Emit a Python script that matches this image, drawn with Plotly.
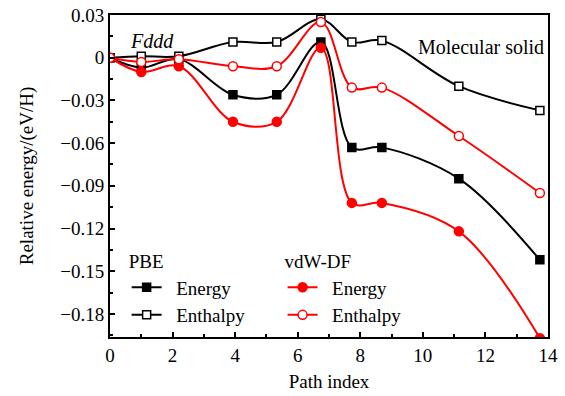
import plotly.graph_objects as go

path_x = [0, 1.0, 2.2, 3.93, 5.33, 6.74, 7.73, 8.69, 11.15, 13.74]
pbe_energy = [0, -0.007, -0.001, -0.026, -0.026, 0.011, -0.063, -0.063, -0.085, -0.142]
pbe_enthalpy = [0, 0.001, 0.001, 0.011, 0.011, 0.027, 0.011, 0.012, -0.020, -0.037]
vdw_energy = [0, -0.010, -0.006, -0.045, -0.045, 0.007, -0.102, -0.102, -0.122, -0.197]
vdw_enthalpy = [0, -0.003, -0.001, -0.006, -0.006, 0.025, -0.021, -0.021, -0.055, -0.095]

FONT = "Liberation Serif, Times New Roman, serif"
fig = go.Figure()

def add(y, color, symbol, filled, name, legend):
    fig.add_trace(go.Scatter(
        x=path_x, y=y, mode="lines+markers", name=name, legend=legend,
        line=dict(color=color, width=2, shape="spline", smoothing=1),
        marker=dict(symbol=symbol, size=9 if "circle" in symbol else 8,
                    color=color if filled else "white",
                    line=dict(color=color, width=1.5)),
    ))

sp = "\u00a0\u00a0"
add(pbe_energy, "black", "square", True, sp + "Energy", "legend")
add(pbe_enthalpy, "black", "square", False, sp + "Enthalpy", "legend")
add(vdw_energy, "#ff0000", "circle", True, sp + "Energy", "legend2")
add(vdw_enthalpy, "#ff0000", "circle", False, sp + "Enthalpy", "legend2")

axis_common = dict(showline=True, linecolor="black", linewidth=2, mirror=True,
                   ticks="inside", tickcolor="black", tickwidth=1.5, ticklen=5,
                   showgrid=False, zeroline=False, automargin=False,
                   tickfont=dict(family=FONT, size=19, color="black"))

fig.update_xaxes(range=[0, 14], dtick=2, tick0=0,
                 minor=dict(dtick=1, ticks="inside", ticklen=3, tickcolor="black"),
                 title=dict(text="Path index", font=dict(family=FONT, size=19, color="black"), standoff=10),
                 **axis_common)
fig.update_yaxes(range=[-0.1962, 0.03], dtick=0.03, tick0=0,
                 minor=dict(dtick=0.015, ticks="inside", ticklen=3, tickcolor="black"),
                 title=dict(text="Relative energy/(eV/H)", font=dict(family=FONT, size=19, color="black"), standoff=22),
                 **axis_common)

legend_common = dict(bgcolor="rgba(0,0,0,0)", font=dict(family=FONT, size=19, color="black"),
                     tracegroupgap=0, itemwidth=30, xanchor="left", yanchor="top")
fig.update_layout(
    width=565, height=396,
    font=dict(family=FONT, color="black"),
    margin=dict(l=110, r=17, t=15, b=59),
    paper_bgcolor="white", plot_bgcolor="white",
    legend=dict(x=0.038, y=0.29, title=dict(text="PBE", font=dict(family=FONT, size=19)), **legend_common),
    legend2=dict(x=0.394, y=0.29, title=dict(text="vdW-DF", font=dict(family=FONT, size=19)), **legend_common),
    annotations=[
        dict(text="<i>Fddd</i>", x=0.04, y=0.92, xref="paper", yref="paper",
             xanchor="left", yanchor="middle", showarrow=False,
             font=dict(family=FONT, size=20, color="black")),
        dict(text="Molecular solid", x=0.995, y=0.90, xref="paper", yref="paper",
             xanchor="right", yanchor="middle", showarrow=False,
             font=dict(family=FONT, size=20, color="black")),
    ],
)

fig.write_html("out.html")
